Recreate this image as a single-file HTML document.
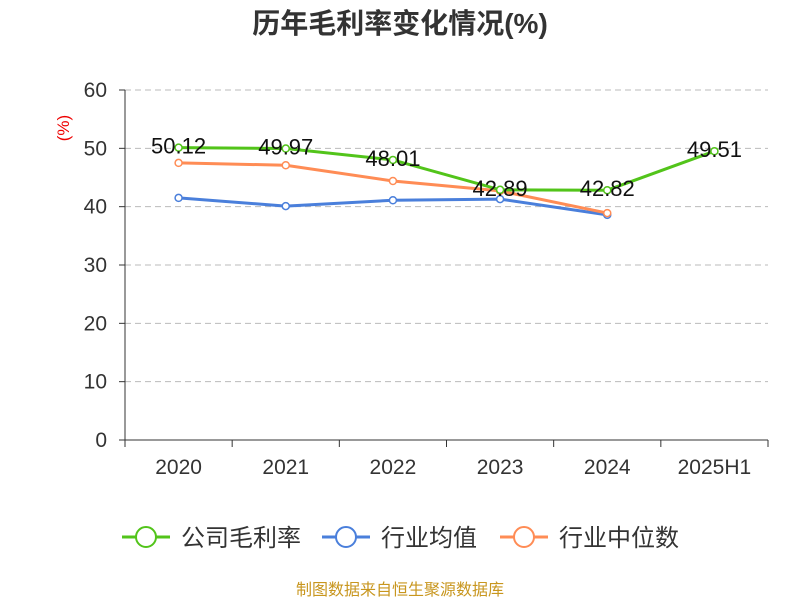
<!DOCTYPE html>
<html><head><meta charset="utf-8"><style>
body{margin:0;background:#fff;font-family:"Liberation Sans","Noto Sans CJK SC",sans-serif}
</style></head><body>
<svg id="c" width="800" height="600" xmlns="http://www.w3.org/2000/svg" style="font-family:'Liberation Sans','Noto Sans CJK SC',sans-serif">
<text x="400" y="33" text-anchor="middle" font-size="28" font-weight="bold" fill="#333">历年毛利率变化情况(%)</text>
<text x="69" y="128" text-anchor="middle" font-size="17" fill="#e00" transform="rotate(-90 69 128)">(%)</text>
<g id="grid"></g><g id="axes"></g><g id="series"></g>
<g>
<g><line x1="122" y1="537" x2="170" y2="537" stroke="#52c41a" stroke-width="3"/><circle cx="146" cy="537" r="10" fill="#fff" stroke="#52c41a" stroke-width="2"/><text x="181" y="546" font-size="24" fill="#333">公司毛利率</text></g>
<g><line x1="322" y1="537" x2="370" y2="537" stroke="#4a7fdb" stroke-width="3"/><circle cx="346" cy="537" r="10" fill="#fff" stroke="#4a7fdb" stroke-width="2"/><text x="381" y="546" font-size="24" fill="#333">行业均值</text></g>
<g><line x1="500" y1="537" x2="548" y2="537" stroke="#ff8c55" stroke-width="3"/><circle cx="524" cy="537" r="10" fill="#fff" stroke="#ff8c55" stroke-width="2"/><text x="559" y="546" font-size="24" fill="#333">行业中位数</text></g>
</g>
<text x="400" y="595" text-anchor="middle" font-size="16" fill="#c8961e">制图数据来自恒生聚源数据库</text>
</svg>
<script>
const categories=["2020","2021","2022","2023","2024","2025H1"];
const companyValues=[50.12,49.97,48.01,42.89,42.82,49.51];
const industryAvg=[41.5,40.1,41.1,41.3,38.6];
const industryMedian=[47.5,47.1,44.4,42.7,38.9];
const yTicks=[0,10,20,30,40,50,60];
const NS="http://www.w3.org/2000/svg";
const X0=125,X1=768,Y0=440,Y1=90;
const band=(X1-X0)/categories.length;
const xS=i=>X0+band*(i+0.5);
const yS=v=>Y0-(v/60)*(Y0-Y1);
function mk(t,a,p){const e=document.createElementNS(NS,t);for(const k in a)e.setAttribute(k,a[k]);p.appendChild(e);return e;}
const grid=document.getElementById('grid'),axes=document.getElementById('axes'),ser=document.getElementById('series');
yTicks.forEach(v=>{
 if(v>0){const g=mk('line',{x1:X0,x2:X1,y1:yS(v),y2:yS(v),stroke:'#bbb','stroke-dasharray':'6,4'},grid);
 
 }
 const tk=mk('line',{x1:X0-6,x2:X0,y1:yS(v),y2:yS(v),stroke:'#333'},axes);
 
 
 const t=mk('text',{x:X0-18,y:yS(v)+7,'text-anchor':'end','font-size':21,fill:'#333'},axes);t.textContent=v;
 
 
});
const ya=mk('line',{x1:X0,x2:X0,y1:Y1,y2:Y0,stroke:'#333'},axes);


const xa=mk('line',{x1:X0,x2:X1,y1:Y0,y2:Y0,stroke:'#333'},axes);


for(let i=0;i<=categories.length;i++){const l=mk('line',{x1:X0+band*i,x2:X0+band*i,y1:Y0,y2:Y0+7,stroke:'#333'},axes);
 
 }
categories.forEach((c,i)=>{const t=mk('text',{x:xS(i),y:474,'text-anchor':'middle','font-size':21,fill:'#333'},axes);t.textContent=c;
 
 });
function drawSeries(vals,color,name,labels){
 const g=mk('g',{},ser);
 
 
 const p=mk('polyline',{points:vals.map((v,i)=>xS(i)+','+yS(v)).join(' '),fill:'none',stroke:color,'stroke-width':3},g);
 
 
 vals.forEach((v,i)=>{const c=mk('circle',{cx:xS(i),cy:yS(v),r:3.5,fill:'#fff',stroke:color,'stroke-width':1.5},g);
  
  
  if(labels){const t=mk('text',{x:xS(i),y:yS(v)+6,'text-anchor':'middle','font-size':22,fill:'#111'},g);t.textContent=v.toFixed(2);
  
  }});
}
drawSeries(industryAvg,'#4a7fdb','industry-avg-series',false);
drawSeries(industryMedian,'#ff8c55','industry-median-series',false);
drawSeries(companyValues,'#52c41a','company-margin-series',true);
</script>
</body></html>
